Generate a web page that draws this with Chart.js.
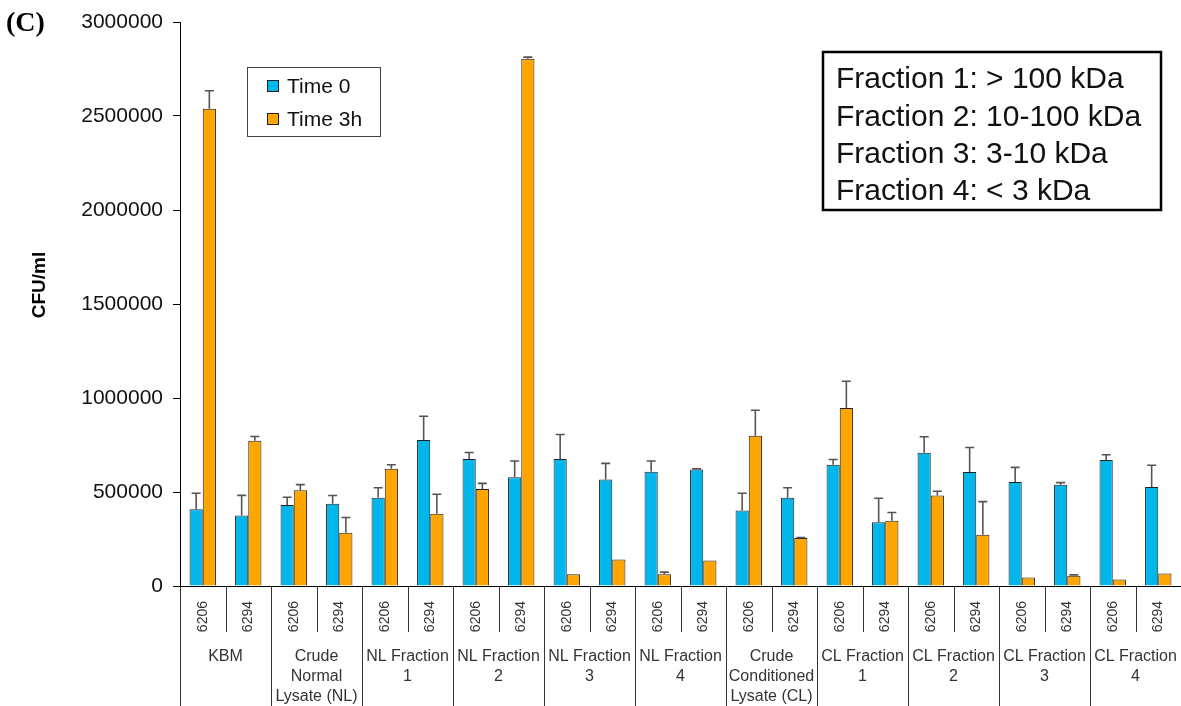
<!DOCTYPE html>
<html>
<head>
<meta charset="utf-8">
<script src="https://cdn.jsdelivr.net/npm/chart.js@4.4.1/dist/chart.umd.min.js"></script>
<style>
  html, body { margin: 0; padding: 0; background: #fff; }
  canvas { display: block; }
</style>
</head>
<body>
<canvas id="c" width="1181" height="706"></canvas>
<script>
// Strains tested in every condition
const strains = ['6206', '6294'];

// Conditions (multi-line group labels under the axis)
const groups = [
  ['KBM'],
  ['Crude', 'Normal', 'Lysate (NL)'],
  ['NL Fraction', '1'],
  ['NL Fraction', '2'],
  ['NL Fraction', '3'],
  ['NL Fraction', '4'],
  ['Crude', 'Conditioned', 'Lysate (CL)'],
  ['CL Fraction', '1'],
  ['CL Fraction', '2'],
  ['CL Fraction', '3'],
  ['CL Fraction', '4']
];

// CFU/ml at time 0 and its standard deviation
const time0 = [408000, 375000, 431000, 437000, 470000, 776000, 675000, 578000, 675000, 567000, 608000,
               620000, 401000, 470000, 645000, 339000, 709000, 607000, 553000, 539000, 670000, 527000];
const time0Err = [85000, 107000, 41000, 44000, 53000, 127000, 35000, 87000, 131000, 85000, 57000,
                  3000, 92000, 53000, 28000, 128000, 85000, 130000, 78000, 11000, 28000, 115000];

// CFU/ml after 3 h and its standard deviation
const time3h = [2538000, 772000, 509000, 283000, 624000, 384000, 516000, 2805000, 62000, 141000, 62000,
                136000, 799000, 255000, 947000, 347000, 481000, 272000, 45000, 55000, 34000, 67000];
const time3hErr = [96000, 23000, 30000, 81000, 21000, 104000, 30000, 8000, 0, 0, 12000,
                   0, 136000, 3000, 142000, 44000, 23000, 177000, 0, 4000, 0, 0];

// Value axis
const yMin = 0;
const yMax = 3000000;
const yStep = 500000;
const yTitle = 'CFU/ml';

// Panel tag and the note on fraction sizes
const panelTag = '(C)';
const fractionNotes = [
  'Fraction 1: > 100 kDa',
  'Fraction 2: 10-100 kDa',
  'Fraction 3: 3-10 kDa',
  'Fraction 4: < 3 kDa'
];

const BLUE = '#00b6ea';
const ORANGE = '#ffa500';
const SANS = '"Liberation Sans", Arial, sans-serif';

const labels = groups.flatMap(() => strains);

// Upper error whiskers for every bar
const errorBars = {
  id: 'errorBars',
  afterDatasetsDraw(chart) {
    const ctx = chart.ctx;
    const y = chart.scales.y;
    chart.data.datasets.forEach((ds, di) => {
      const meta = chart.getDatasetMeta(di);
      meta.data.forEach((bar, i) => {
        const e = ds.errors[i];
        if (!e) return;
        const top = y.getPixelForValue(ds.data[i] + e);
        ctx.save();
        ctx.strokeStyle = '#555';
        ctx.lineWidth = 1.6;
        ctx.beginPath();
        ctx.moveTo(bar.x, bar.y);
        ctx.lineTo(bar.x, top);
        ctx.moveTo(bar.x - 4.5, top);
        ctx.lineTo(bar.x + 4.5, top);
        ctx.stroke();
        ctx.restore();
      });
    });
  }
};

// Table-style category axis, legend, notes and titles
const decorations = {
  id: 'decorations',
  afterDraw(chart) {
    const ctx = chart.ctx;
    const x = chart.scales.x;
    const area = chart.chartArea;
    const H = chart.height;
    const step = x.getPixelForValue(1) - x.getPixelForValue(0);

    ctx.save();
    // separators below the axis
    ctx.strokeStyle = '#333';
    ctx.lineWidth = 1;
    for (let i = 0; i < labels.length; i++) {
      const xb = Math.round(x.getPixelForValue(i) - step / 2) + 0.5;
      const groupEdge = i % strains.length === 0;
      ctx.beginPath();
      ctx.moveTo(xb, area.bottom);
      ctx.lineTo(xb, groupEdge ? H : area.bottom + 46);
      ctx.stroke();
    }

    // condition labels
    ctx.fillStyle = '#333';
    ctx.font = '16px ' + SANS;
    ctx.textAlign = 'center';
    ctx.textBaseline = 'middle';
    groups.forEach((lines, g) => {
      const cx = (x.getPixelForValue(g * 2) + x.getPixelForValue(g * 2 + 1)) / 2;
      lines.forEach((t, k) => ctx.fillText(t, cx, area.bottom + 71 + k * 20));
    });

    // legend
    const lx = 247, ly = 67, lw = 133, lh = 69;
    ctx.strokeStyle = '#444';
    ctx.lineWidth = 1;
    ctx.strokeRect(lx + 0.5, ly + 0.5, lw, lh);
    ctx.font = '21px ' + SANS;
    ctx.textAlign = 'left';
    chart.data.datasets.forEach((ds, i) => {
      const cy = ly + 19 + i * 33;
      ctx.fillStyle = ds.backgroundColor;
      ctx.fillRect(lx + 20, cy - 6, 12, 12);
      ctx.strokeStyle = '#222';
      ctx.strokeRect(lx + 20.5, cy - 5.5, 11, 11);
      ctx.fillStyle = '#111';
      ctx.fillText(ds.label, lx + 40, cy + 1);
    });

    // fraction size note
    ctx.strokeStyle = '#000';
    ctx.lineWidth = 2.5;
    ctx.strokeRect(823, 52, 338, 158);
    ctx.fillStyle = '#111';
    ctx.font = '30px ' + SANS;
    fractionNotes.forEach((t, k) => ctx.fillText(t, 836, 80 + k * 37.3));

    // y axis title
    ctx.save();
    ctx.translate(40, 285);
    ctx.rotate(-Math.PI / 2);
    ctx.font = 'bold 19px ' + SANS;
    ctx.textAlign = 'center';
    ctx.fillStyle = '#000';
    ctx.fillText(yTitle, 0, 0);
    ctx.restore();

    // panel tag
    ctx.font = 'bold 28px "Liberation Serif", "Times New Roman", serif';
    ctx.textAlign = 'left';
    ctx.fillStyle = '#000';
    ctx.fillText(panelTag, 6, 24);
    ctx.restore();
  }
};

new Chart(document.getElementById('c'), {
  type: 'bar',
  data: {
    labels: labels,
    datasets: [
      { label: 'Time 0', data: time0, errors: time0Err, backgroundColor: BLUE,
        borderColor: '#222', borderWidth: 1 },
      { label: 'Time 3h', data: time3h, errors: time3hErr, backgroundColor: ORANGE,
        borderColor: '#222', borderWidth: 1 }
    ]
  },
  options: {
    responsive: false,
    animation: false,
    devicePixelRatio: 1,
    layout: { padding: { top: 22, right: 0, left: 0, bottom: 0 } },
    datasets: { bar: { categoryPercentage: 0.58, barPercentage: 1.0 } },
    plugins: { legend: { display: false }, tooltip: { enabled: false } },
    scales: {
      x: {
        grid: { display: false },
        border: { display: true, color: '#000', width: 1 },
        ticks: {
          autoSkip: false, minRotation: 90, maxRotation: 90, padding: 7,
          color: '#333', font: { family: SANS, size: 14 }
        },
        afterFit(scale) {
          scale.height = 120;
          scale.paddingLeft = 0;
          scale.paddingRight = 0;
        }
      },
      y: {
        min: yMin, max: yMax,
        grid: { drawOnChartArea: false, drawTicks: true, tickLength: 7, color: '#000' },
        border: { display: true, color: '#000', width: 1 },
        ticks: {
          stepSize: yStep, padding: 10, color: '#111',
          font: { family: SANS, size: 21 },
          callback: v => String(v)
        },
        afterFit(scale) {
          scale.width = 180;
          scale.paddingTop = 0;
          scale.paddingBottom = 0;
        }
      }
    }
  },
  plugins: [errorBars, decorations]
});
</script>
</body>
</html>
